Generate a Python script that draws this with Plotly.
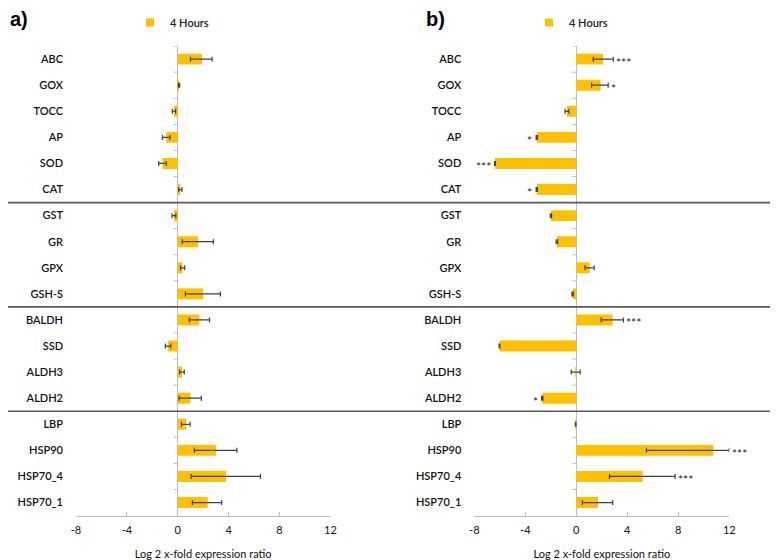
import plotly.graph_objects as go

# ---------------- data ----------------
genes = ["ABC", "GOX", "TOCC", "AP", "SOD", "CAT",
         "GST", "GR", "GPX", "GSH-S",
         "BALDH", "SSD", "ALDH3", "ALDH2",
         "LBP", "HSP90", "HSP70_4", "HSP70_1"]

series_name = "4 Hours"

# panel a)
a_val = [1.9, 0.1, -0.3, -0.9, -1.2, 0.2,
         -0.3, 1.6, 0.38, 2.0,
         1.7, -0.76, 0.33, 1.0,
         0.65, 3.0, 3.8, 2.35]
a_err_plus = [0.8, 0.05, 0.13, 0.3, 0.3, 0.13,
              0.15, 1.2, 0.17, 1.35,
              0.8, 0.22, 0.18, 0.85,
              0.32, 1.65, 2.7, 1.1]
a_err_minus = [0.9, 0.05, 0.13, 0.3, 0.3, 0.13,
               0.15, 1.25, 0.17, 1.4,
               0.8, 0.22, 0.18, 0.9,
               0.36, 1.7, 2.75, 1.2]

# panel b)
b_val = [2.1, 1.9, -0.73, -3.1, -6.38, -3.1,
         -1.99, -1.52, 1.05, -0.29,
         2.85, -6.02, -0.05, -2.67,
         -0.05, 10.75, 5.2, 1.7]
b_err_plus = [0.8, 0.6, 0.15, 0.05, 0.03, 0.05,
              0.05, 0.06, 0.35, 0.05,
              0.85, 0.03, 0.35, 0.05,
              0.02, 1.25, 2.55, 1.15]
b_err_minus = [0.77, 0.7, 0.15, 0.05, 0.03, 0.05,
               0.05, 0.06, 0.37, 0.05,
               0.9, 0.03, 0.35, 0.05,
               0.02, 5.25, 2.6, 1.23]
b_sig = ["***", "*", "", "*", "***", "*",
         "", "", "", "",
         "***", "", "", "*",
         "", "***", "***", ""]

x_ticks = [-8, -4, 0, 4, 8, 12]
group_breaks = [5.5, 9.5, 13.5]   # between CAT/GST, GSH-S/BALDH, ALDH2/LBP
x_title = "Log 2 x-fold expression ratio"

# ---------------- style ----------------
OFF = 8                      # page body margin
W, H = 778 - OFF, 560 - OFF  # figure size so the page is 778x560
GOLD = "#FFC000"
ERR = "#404040"
AXC = "#BFBFBF"
FONT = "Lato"


def fx(p):
    return max(0.0, (p - OFF) / W)


def fy(p):
    return min(1.0, 1 - (p - OFF) / H)


fig = go.Figure()

for vals, ep, em, xa, ya, lg in [
    (a_val, a_err_plus, a_err_minus, "x", "y", "legend"),
    (b_val, b_err_plus, b_err_minus, "x2", "y2", "legend2"),
]:
    fig.add_trace(go.Bar(
        y=genes, x=vals, orientation="h", xaxis=xa, yaxis=ya,
        marker=dict(color=GOLD, line=dict(width=0)), width=0.42,
        error_x=dict(type="data", symmetric=False, array=ep, arrayminus=em,
                     color=ERR, thickness=1.2, width=2.5),
        showlegend=False, name=series_name,
    ))
    fig.add_trace(go.Scatter(
        x=[None], y=[None], mode="markers", xaxis=xa, yaxis=ya,
        marker=dict(symbol="square", size=8, color=GOLD),
        name=series_name, legend=lg, showlegend=True,
    ))

ydom = [fy(515), fy(39.5)]
xdoms = {"x": [fx(76), fx(330.4)], "x2": [fx(474.3), fx(729.3)]}

for key, ykey in [("x", "y"), ("x2", "y2")]:
    ax_name = "xaxis" if key == "x" else "xaxis2"
    ay_name = "yaxis" if ykey == "y" else "yaxis2"
    fig.layout[ax_name] = dict(
        domain=xdoms[key], anchor=ykey, range=[x_ticks[0], x_ticks[-1]],
        tickvals=x_ticks, ticktext=[str(t) for t in x_ticks],
        ticks="inside", ticklen=4, tickcolor=AXC, tickwidth=1,
        showline=True, linecolor=AXC, linewidth=1,
        showgrid=False, zeroline=True, zerolinecolor=AXC, zerolinewidth=1,
        tickfont=dict(family=FONT, size=11, color="#111"),
        ticklabelstandoff=4,
        title=dict(text=x_title, standoff=16,
                   font=dict(family=FONT, size=11, color="#111")),
        automargin=False, fixedrange=True,
    )
    fig.layout[ay_name] = dict(
        domain=ydom, anchor=key, type="category",
        categoryorder="array", categoryarray=genes,
        range=[len(genes) - 0.5, -0.5],
        showline=False, showgrid=False, zeroline=False, ticks="",
        ticklabelstandoff=12,
        tickfont=dict(family=FONT, size=11, color="#111", weight=600),
        automargin=False, fixedrange=True,
    )

shapes = []
# small category-boundary ticks on the zero line
for key, ykey in [("x", "y"), ("x2", "y2")]:
    for i in range(len(genes)):
        shapes.append(dict(type="line", xref=key, yref=ykey,
                           xsizemode="pixel", xanchor=0, x0=-4, x1=0,
                           y0=i - 0.5, y1=i - 0.5,
                           line=dict(color=AXC, width=1)))
# group separators across full width
for b in group_breaks:
    shapes.append(dict(type="line", xref="paper", yref="y",
                       x0=0, x1=fx(775), y0=b, y1=b,
                       line=dict(color="#5a5a5a", width=1.6)))

annotations = [
    dict(text="<b>a)</b>", xref="paper", yref="paper", x=0, y=fy(12.5),
         xanchor="left", yanchor="middle", showarrow=False,
         font=dict(family="Liberation Sans", size=20, color="#000")),
    dict(text="<b>b)</b>", xref="paper", yref="paper", x=fx(424), y=fy(12.5),
         xanchor="left", yanchor="middle", showarrow=False,
         font=dict(family="Liberation Sans", size=20, color="#000")),
]
for g, v, ep, em, s in zip(genes, b_val, b_err_plus, b_err_minus, b_sig):
    if not s:
        continue
    if v >= 0:
        annotations.append(dict(text=s, xref="x2", yref="y2", x=v + ep, y=g,
                                xanchor="left", xshift=1, yshift=-3,
                                showarrow=False,
                                font=dict(family=FONT, size=12, color="#222")))
    else:
        annotations.append(dict(text=s, xref="x2", yref="y2", x=v - em, y=g,
                                xanchor="right", xshift=-2, yshift=-3,
                                showarrow=False,
                                font=dict(family=FONT, size=12, color="#222")))

legend_style = dict(orientation="h", xanchor="left", yanchor="middle",
                    y=fy(15.5), bgcolor="rgba(0,0,0,0)", borderwidth=0,
                    itemwidth=30,
                    font=dict(family=FONT, size=11, color="#222", weight=600))

fig.update_layout(
    width=W, height=H,
    margin=dict(l=0, r=0, t=0, b=0),
    paper_bgcolor="white", plot_bgcolor="white",
    font=dict(family=FONT, color="#111"),
    bargap=0.58,
    shapes=shapes, annotations=annotations,
    legend=dict(x=fx(130), **legend_style),
    legend2=dict(x=fx(529), **legend_style),
)

fig.write_html("out.html")
